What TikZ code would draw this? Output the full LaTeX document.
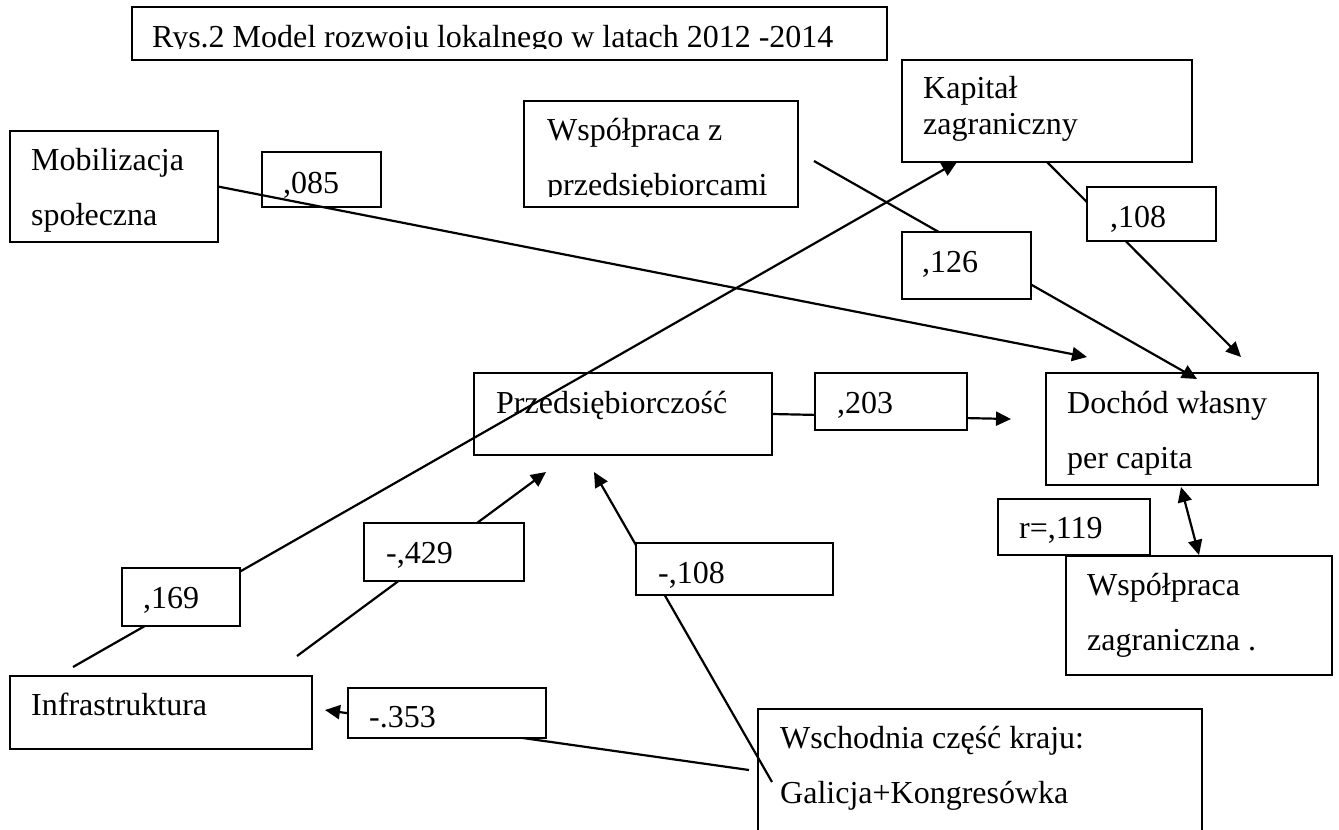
\documentclass[tikz,border=0pt]{standalone}
\usepackage{fontspec}
\setmainfont{Liberation Serif}
\usetikzlibrary{arrows.meta}
\pgfdeclarelayer{back}
\pgfsetlayers{back,main}

\tikzset{
  box/.style={draw, line width=1.4pt, anchor=north west, inner sep=0pt, outer sep=0pt},
  lab/.style={box, fill=white},
  txt/.style={anchor=base west, inner sep=0pt, align=left, font=\fontsize{32}{55}\selectfont},
  lin/.style={line width=2.2pt},
  con/.style={lin, -{Triangle[length=15pt,width=14pt]}},
  dcon/.style={lin, {Triangle[length=15pt,width=14pt]}-{Triangle[length=15pt,width=14pt]}},
}

\begin{document}
\begin{tikzpicture}[x=1pt,y=-1pt]
\useasboundingbox (0,0) rectangle (1339,830);
\clip (0,0) rectangle (1339,830);
% boxes
\node[box, minimum width=755pt, minimum height=53pt] (tit) at (132,7) {};
\node[box, minimum width=208pt, minimum height=111pt] (mob) at (10,131) {};
\node[box, minimum width=119pt, minimum height=55pt] (l085) at (262,152) {};
\node[box, minimum width=274pt, minimum height=106pt] (wzp) at (524,101) {};
\node[box, minimum width=290pt, minimum height=102pt] (kap) at (902,60) {};
\node[box, minimum width=298pt, minimum height=82pt] (prz) at (474,373) {};
\node[box, minimum width=272pt, minimum height=112pt] (doch) at (1046,373) {};
\node[box, minimum width=266pt, minimum height=119pt] (wzag) at (1066,556) {};
\node[box, minimum width=302pt, minimum height=73pt] (infra) at (10,676) {};
\node[box, minimum width=444pt, minimum height=150pt] (wsch) at (758,709) {};
% weights
\node[lab, minimum width=129pt, minimum height=67pt] (l126) at (902,232) {};
\node[lab, minimum width=129pt, minimum height=54pt] (l108) at (1087,187) {};
\node[lab, minimum width=152pt, minimum height=57pt] (l203) at (815,373) {};
\node[lab, minimum width=152pt, minimum height=56pt] (lr) at (998,499) {};
\node[lab, minimum width=197pt, minimum height=52pt] (lm108) at (636,543) {};
\node[lab, minimum width=160pt, minimum height=58pt] (l429) at (364,523) {};
\node[lab, minimum width=118pt, minimum height=58pt] (l169) at (122,568) {};
\node[lab, minimum width=198pt, minimum height=50pt] (l353) at (348,688) {};
% texts (base = last line)
\begin{scope}
\clip (132,7) rectangle (887,48.5);
\node[txt] (titT) at (152,47) {Rys.2 Model rozwoju lokalnego w latach 2012 -2014};
\end{scope}
\begin{scope}
\clip (524,101) rectangle (798,196.5);
\node[txt] (wzpT) at (547,195) {Współpraca z\\przedsiębiorcami};
\end{scope}
\node[txt] (mobT) at (31,225) {Mobilizacja\\społeczna};
\node[txt] (t085) at (283,193) {,085};
\node[txt, font=\fontsize{32}{36}\selectfont] (kapT) at (923,134) {Kapitał\\zagraniczny};
\node[txt] (t126) at (922,272) {,126};
\node[txt] (t108) at (1110,227) {,108};
\node[txt] (przT) at (496,413) {Przedsiębiorczość};
\node[txt] (t203) at (837,413) {,203};
\node[txt] (dochT) at (1067,468) {Dochód własny\\per capita};
\node[txt] (trr) at (1019,538) {r=,119};
\node[txt] (wzagT) at (1087,650) {Współpraca\\zagraniczna .};
\node[txt] (tm108) at (658,583) {-,108};
\node[txt] (t429) at (386,563) {-,429};
\node[txt] (t169) at (143,608) {,169};
\node[txt] (infraT) at (31,715) {Infrastruktura};
\node[txt] (t353) at (369,727) {-.353};
\node[txt] (wschT) at (780,803) {Wschodnia część kraju:\\Galicja+Kongresówka};
% free ends
\coordinate (m1) at (1087,357);
\coordinate (i1) at (73,667);
\coordinate (k1) at (957,162);
\coordinate (i2) at (297,656);
\coordinate (p1) at (546,472);
\coordinate (w1) at (772,782);
\coordinate (p2) at (594,472);
\coordinate (w2) at (749,770);
\coordinate (i3) at (325,710);
\coordinate (z1) at (814,161);
\coordinate (d1) at (1197,379);
\coordinate (d2) at (1241,357);
\coordinate (d3) at (1011,419);
\coordinate (d4) at (1181,487);
\coordinate (z2) at (1199,555);
% paths
\begin{pgfonlayer}{back}
\draw[con] (mob.east) -- (m1);
\draw[con] (i1) -- (k1);
\draw[con] (i2) -- (p1);
\draw[con] (w1) -- (p2);
\draw[con] (w2) -- (i3);
\draw[con] (z1) -- (d1);
\draw[con] (kap.south) -- (d2);
\draw[con] (prz.east) -- (d3);
\draw[dcon] (d4) -- (z2);
\end{pgfonlayer}
\end{tikzpicture}
\end{document}
